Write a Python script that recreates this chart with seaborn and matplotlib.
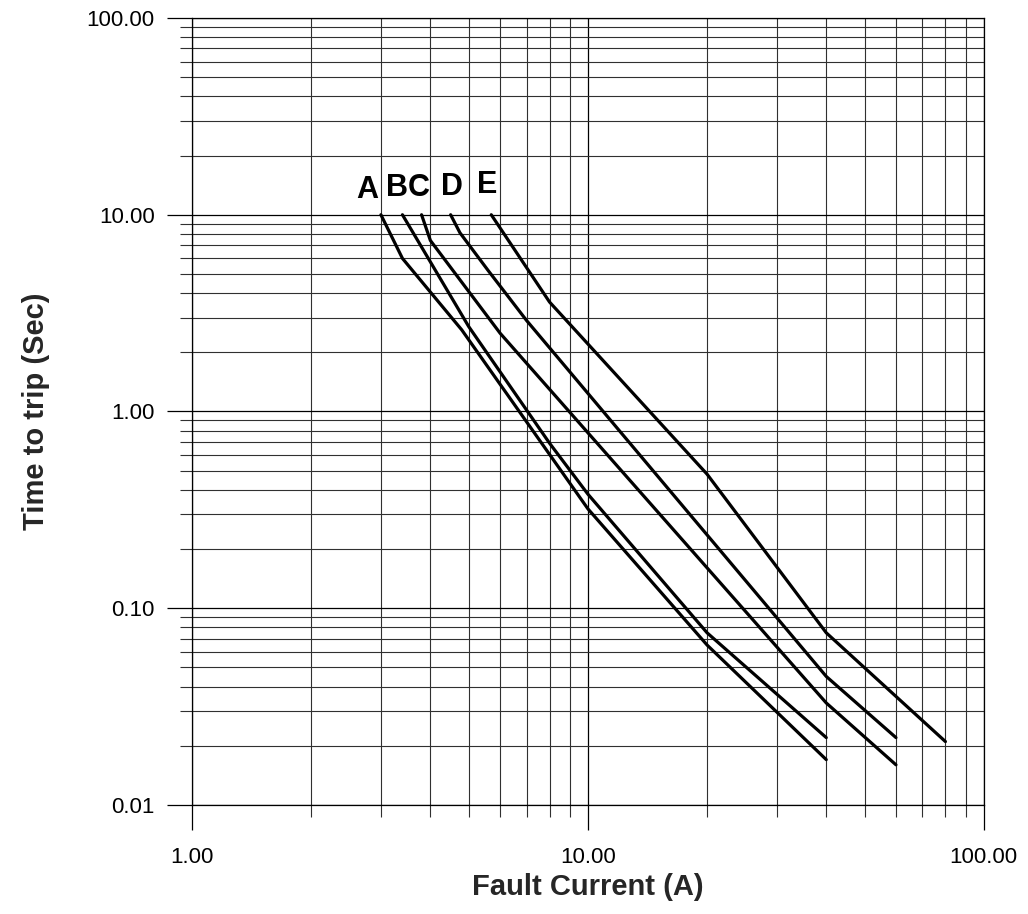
import numpy as np
import pandas as pd
import seaborn as sns
import matplotlib
matplotlib.use("Agg")
import matplotlib.pyplot as plt
from matplotlib.ticker import LogLocator, FuncFormatter, NullFormatter

# trip curves (fault current A, time s)
curve_names = ["A", "B", "C", "D", "E"]
a_current = [3.0, 3.4, 4.8, 10, 20, 40]
a_time = [10, 6.0, 2.6, 0.32, 0.065, 0.017]
b_current = [3.4, 5.0, 8, 10, 20, 40]
b_time = [10, 2.7, 0.69, 0.38, 0.075, 0.022]
c_current = [3.8, 4.0, 6, 40, 60]
c_time = [10, 7.4, 2.5, 0.033, 0.016]
d_current = [4.5, 4.75, 5.6, 7, 40, 60]
d_time = [10, 8.1, 5.2, 2.9, 0.045, 0.022]
e_current = [5.7, 8, 20, 40, 80]
e_time = [10, 3.6, 0.48, 0.075, 0.021]

currents = [a_current, b_current, c_current, d_current, e_current]
times = [a_time, b_time, c_time, d_time, e_time]

rows = []
for name, xs, ys in zip(curve_names, currents, times):
    for x, y in zip(xs, ys):
        rows.append({"curve": name, "current": x, "time": y})
df = pd.DataFrame(rows)

sns.set_style("white")
plt.rcParams["font.family"] = ["Liberation Sans", "DejaVu Sans"]

fig = plt.figure(figsize=(10.28, 9.14), dpi=100)
ax = fig.add_axes([0.1868, 0.1193, 0.957 - 0.1868, 0.9803 - 0.1193])

sns.lineplot(data=df, x="current", y="time", hue="curve", units="curve",
             estimator=None, sort=False, palette=["black"] * 5,
             linewidth=2.3, legend=False, ax=ax)

ax.set_xscale("log")
ax.set_yscale("log")
ax.set_xlim(1, 100)
ax.set_ylim(0.01, 100)

fmt = FuncFormatter(lambda v, p: f"{v:.2f}")
for axis in (ax.xaxis, ax.yaxis):
    axis.set_major_locator(LogLocator(base=10))
    axis.set_minor_locator(LogLocator(base=10, subs=np.arange(2, 10)))
    axis.set_major_formatter(fmt)
    axis.set_minor_formatter(NullFormatter())

ax.grid(True, which="major", color="black", linewidth=0.9)
ax.grid(True, which="minor", color="#303030", linewidth=0.8)
ax.set_axisbelow(True)

ax.tick_params(which="major", length=18, width=0.9, color="black",
               labelsize=16, labelcolor="black")
ax.tick_params(which="minor", length=8.5, width=0.8, color="#303030")
ax.tick_params(axis="x", which="major", pad=12)
ax.tick_params(axis="y", which="major", pad=9)
ax.xaxis.set_ticks_position("bottom")
ax.yaxis.set_ticks_position("left")

for s in ax.spines.values():
    s.set_color("black")
    s.set_linewidth(0.9)

ax.set_xlabel("Fault Current (A)", fontsize=21, fontweight="bold", labelpad=4)
ax.set_ylabel("Time to trip (Sec)", fontsize=21, fontweight="bold", labelpad=26)

# curve letters above each curve start
label_offsets = {"A": (-14, 25), "B": (-5, 27), "C": (-3, 27), "D": (1, 28), "E": (-4, 30)}
for name, xs, ys in zip(curve_names, currents, times):
    ax.annotate(name, xy=(xs[0], ys[0]), xytext=label_offsets[name],
                textcoords="offset pixels", ha="center", va="center",
                fontsize=22, fontweight="bold", color="black")

fig.savefig("out.png", dpi=100)
